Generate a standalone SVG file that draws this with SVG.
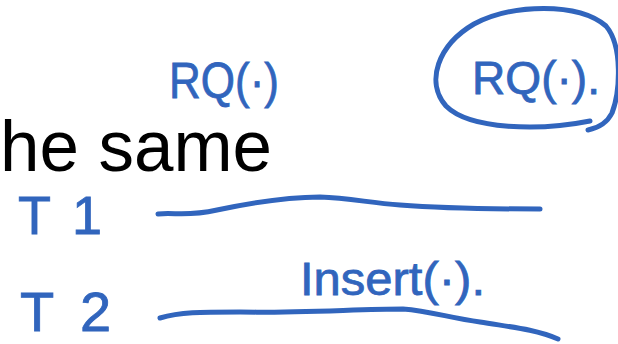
<svg xmlns="http://www.w3.org/2000/svg" width="618" height="344" viewBox="0 0 618 344">
  <style>
    .ink { fill: #3165bd; stroke: #3165bd; stroke-width: 0.8; font-family: "Liberation Sans", "DejaVu Sans", sans-serif; }
    .stroke { fill: none; stroke: #3165bd; stroke-width: 5; stroke-linecap: round; stroke-linejoin: round; }
    .print { fill: #000; font-family: "Liberation Sans", Arial, sans-serif; }
  </style>
  <rect width="618" height="344" fill="#fff"/>

  <!-- printed slide text -->
  <g id="slide-text">
    <text class="print" x="0" y="171" font-size="72" textLength="272" lengthAdjust="spacingAndGlyphs">he same</text>
  </g>

  <!-- range query labels -->
  <g id="rq-left">
    <text class="ink" x="169" y="98" font-size="50" textLength="110" lengthAdjust="spacingAndGlyphs">RQ(·)</text>
  </g>
  <g id="rq-circled">
    <path class="stroke" d="M 590,121 C 540,131 470,130 446,106 C 425,82 438,45 474,24 C 512,4 578,2 606,26 C 623,46 620,92 612,113 C 607,123 598,128 588,130"/>
    <text class="ink" x="472" y="94" font-size="46" textLength="128" lengthAdjust="spacingAndGlyphs">RQ(·).</text>
  </g>

  <!-- transactions -->
  <g id="t1">
    <text class="ink" y="234" font-size="54"><tspan x="18">T</tspan><tspan x="72">1</tspan></text>
  </g>
  <g id="t2">
    <text class="ink" y="331" font-size="56"><tspan x="20">T</tspan><tspan x="80">2</tspan></text>
  </g>

  <!-- operation label -->
  <g id="insert">
    <text class="ink" x="300" y="295" font-size="46" textLength="185" lengthAdjust="spacingAndGlyphs">Insert(·).</text>
  </g>

  <!-- timelines -->
  <g id="connectors">
    <path class="stroke" d="M 158,214 C 175,212 185,217 217,210 C 250,203 285,197 320,197 C 350,198 370,203 400,205 C 450,209 500,209 540,209"/>
    <path class="stroke" d="M 160,318 C 180,312 200,312 240,312 C 300,313 360,309 403,309 C 430,311 450,318 480,322 C 510,327 535,329 558,339"/>
  </g>
</svg>
